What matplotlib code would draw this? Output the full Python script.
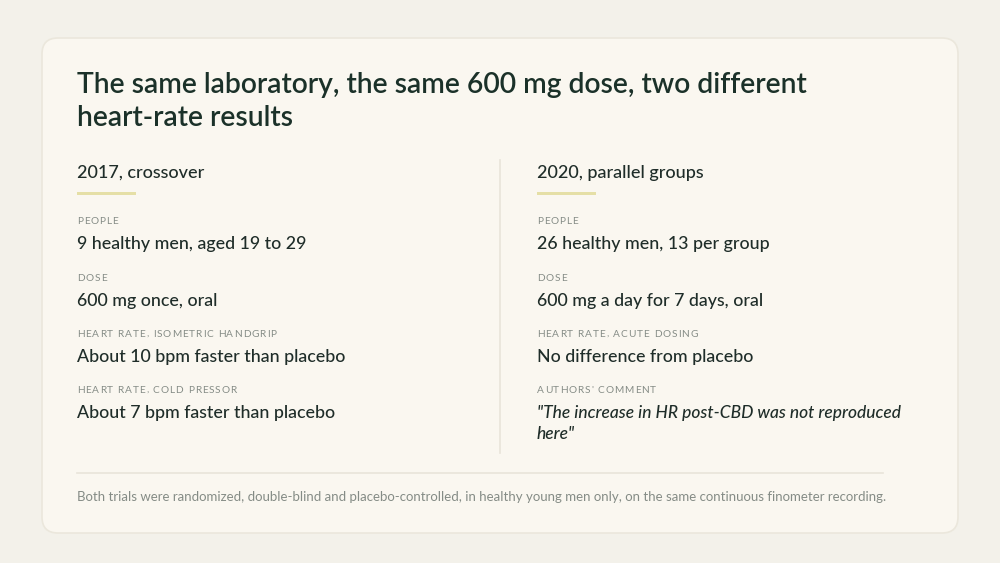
import matplotlib
matplotlib.use("Agg")
import matplotlib.pyplot as plt
from matplotlib.patches import FancyBboxPatch, Rectangle

plt.rcParams['font.family'] = ['Lato', 'DejaVu Sans']

title_lines = ["The same laboratory, the same 600 mg dose, two different",
               "heart-rate results"]
col_titles = ["2017, crossover", "2020, parallel groups"]
left_labels = ["PEOPLE", "DOSE", "HEART RATE, ISOMETRIC HANDGRIP", "HEART RATE, COLD PRESSOR"]
left_values = [["9 healthy men, aged 19 to 29"], ["600 mg once, oral"],
               ["About 10 bpm faster than placebo"], ["About 7 bpm faster than placebo"]]
right_labels = ["PEOPLE", "DOSE", "HEART RATE, ACUTE DOSING", "AUTHORS' COMMENT"]
right_values = [["26 healthy men, 13 per group"], ["600 mg a day for 7 days, oral"],
                ["No difference from placebo"],
                ["\"The increase in HR post-CBD was not reproduced", "here\""]]
footnote = ("Both trials were randomized, double-blind and placebo-controlled, "
            "in healthy young men only, on the same continuous finometer recording.")

BG = "#f3f1ea"
CARD = "#faf7f0"
DARK = "#1b3129"
TEXT = "#1f2d29"
MUTED = "#858c86"
ACCENT = "#e5dfa6"
RULE = "#e8e4da"

fig = plt.figure(figsize=(10, 5.63), dpi=100, facecolor=BG)
ax = fig.add_axes([0, 0, 1, 1])
ax.set_xlim(0, 1000)
ax.set_ylim(563, 0)
ax.axis("off")

card = FancyBboxPatch((42, 38), 916, 495, boxstyle="round,pad=0,rounding_size=16",
                      fc=CARD, ec="#ebe7dc", lw=1.2)
ax.add_patch(card)

renderer = fig.canvas.get_renderer()


def spaced(x, y, s, size, color, spacing):
    # draw text char by char to fake letter spacing
    for ch in s:
        t = ax.text(x, y, ch, fontsize=size, color=color, va="baseline", ha="left")
        w = t.get_window_extent(renderer).width
        if ch == " ":
            w = size * 100 / 72 * 0.28
        x += w + spacing


for i, line in enumerate(title_lines):
    ax.text(77, 93 + i * 33, line, fontsize=20.3, color=DARK, fontweight="semibold",
            va="baseline")

cols = [(77, left_labels, left_values), (537, right_labels, right_values)]
label_y = [224, 281, 337, 393]
value_y = [249, 306, 362, 418]
for ci, (x0, labels, values) in enumerate(cols):
    ax.text(x0, 178, col_titles[ci], fontsize=13, color=TEXT, fontweight="medium",
            va="baseline")
    ax.add_patch(Rectangle((x0, 191.5), 59, 3.5, fc=ACCENT, ec="none"))
    for lab, val, ly, vy in zip(labels, values, label_y, value_y):
        spaced(x0, ly, lab, 7.3, MUTED, 0.9)
        italic = val[0].startswith('"')
        for k, ln in enumerate(val):
            ax.text(x0, vy + k * 21, ln, fontsize=12.5 if italic else 12.8, color=TEXT,
                    va="baseline", style="italic" if italic else "normal",
                    fontweight="medium")

ax.plot([500, 500], [160, 453], color=RULE, lw=1.2)
ax.plot([77, 883], [473, 473], color=RULE, lw=1.2)
ax.text(77, 501, footnote, fontsize=9.5, color=MUTED, va="baseline")

fig.savefig("out.png", dpi=100, facecolor=BG)
